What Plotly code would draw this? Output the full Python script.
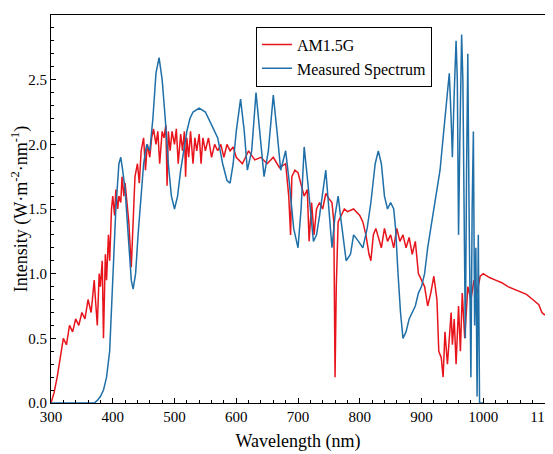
import plotly.graph_objects as go

# AM1.5G reference spectrum
am_x = [300, 305, 310, 315, 320, 325, 330, 335, 340, 345, 350, 355, 360, 365, 370, 372, 375, 378, 380, 383,
        385, 388, 390, 393, 395, 398, 400, 403, 405, 408, 410, 413, 415, 418, 420, 423, 426, 430, 433, 436,
        440, 443, 446, 450, 453, 456, 460, 463, 466, 470, 473, 476, 480, 483, 486, 488, 490, 493, 496, 500,
        503, 506, 510, 513, 516, 518, 520, 523, 526, 530, 533, 536, 540, 543, 546, 550, 555, 560, 565, 570,
        575, 580, 585, 590, 595, 600, 610, 620, 630, 640, 650, 660, 670, 680, 685, 688, 690, 695, 700, 705,
        710, 715, 718, 722, 726, 730, 735, 740, 745, 750, 755, 758, 760, 762, 765, 770, 775, 780, 790, 800,
        805, 810, 815, 818, 822, 826, 830, 835, 840, 845, 850, 855, 860, 865, 870, 875, 880, 885, 890, 895,
        900, 905, 910, 915, 920, 925, 928, 932, 935, 938, 942, 945, 948, 950, 953, 956, 960, 963, 966, 970,
        975, 980, 985, 990, 995, 1000, 1010, 1020, 1030, 1040, 1050, 1060, 1070, 1080, 1090, 1095, 1100]
am_y = [0.0, 0.08, 0.2, 0.35, 0.5, 0.45, 0.6, 0.55, 0.65, 0.6, 0.7, 0.65, 0.8, 0.7, 0.95, 0.8, 0.6, 1.0, 0.9, 1.1,
        0.5, 1.15, 0.95, 1.3, 1.1, 1.5, 1.6, 1.45, 1.65, 1.5, 1.6, 1.55, 1.75, 1.6, 1.7, 1.55, 1.4, 1.05, 1.4, 1.75,
        1.85, 1.7, 1.95, 2.05, 1.8, 2.0, 1.9, 2.05, 2.12, 2.0, 2.1, 1.85, 2.1, 2.05, 2.15, 1.68, 2.1, 1.95, 2.1, 2.0,
        2.12, 1.85, 2.08, 1.95, 2.1, 1.75, 2.05, 1.9, 2.1, 1.85, 2.05, 1.95, 2.08, 1.85, 2.05, 1.95, 2.05, 1.9, 2.0, 1.95,
        2.0, 1.9, 2.0, 1.95, 1.98, 1.9, 1.85, 1.95, 1.88, 1.9, 1.85, 1.9, 1.82, 1.85, 1.6, 1.3, 1.75, 1.8, 1.78, 1.7,
        1.6, 1.65, 1.25, 1.55, 1.3, 1.5, 1.55, 1.5, 1.62, 1.58, 1.55, 1.4, 0.2, 0.9, 1.4, 1.45, 1.5, 1.48, 1.5, 1.45,
        1.4, 1.3, 1.15, 1.1, 1.3, 1.35, 1.28, 1.2, 1.35, 1.25, 1.3, 1.2, 1.35, 1.25, 1.3, 1.2, 1.28, 1.15, 1.25, 1.0,
        0.95, 0.9, 0.75, 0.85, 0.98, 0.8, 0.4, 0.35, 0.2, 0.55, 0.3, 0.5, 0.7, 0.45, 0.65, 0.3, 0.75, 0.4, 0.85, 0.5,
        0.9, 0.8, 0.95, 0.85, 0.98, 1.0, 0.97, 0.95, 0.93, 0.9, 0.88, 0.86, 0.84, 0.8, 0.76, 0.7, 0.68]

# measured spectrum
ms_x = [300, 370, 375, 380, 385, 390, 395, 400, 405, 410, 413, 416, 420, 425, 430, 433, 437, 441, 445, 450,
        455, 460, 465, 470, 475, 480, 485, 490, 495, 500, 505, 510, 515, 520, 525, 530, 540, 550, 560, 570,
        578, 585, 590, 595, 600, 607, 613, 618, 625, 632, 638, 645, 652, 660, 666, 672, 680, 686, 693, 700,
        705, 710, 716, 725, 730, 735, 745, 750, 755, 760, 765, 770, 778, 785, 790, 798, 805, 812, 818, 825,
        830, 835, 840, 845, 850, 855, 858, 862, 866, 870, 875, 880, 885, 890, 895, 900, 905, 910, 915, 920,
        925, 930, 935, 940, 945, 948, 950, 953, 956, 958, 960, 962, 965, 967, 969, 971, 973, 975, 977, 980,
        982, 984, 986, 988, 990, 992, 994, 996, 1000]
ms_y = [0.0, 0.0, 0.02, 0.05, 0.1, 0.2, 0.4, 0.9, 1.5, 1.85, 1.9, 1.8, 1.65, 1.3, 0.95, 0.88, 1.0, 1.3, 1.55, 1.85,
        2.0, 1.95, 2.2, 2.55, 2.67, 2.5, 2.2, 1.85, 1.6, 1.5, 1.6, 1.8, 1.95, 2.1, 2.2, 2.25, 2.28, 2.25, 2.15, 2.05,
        1.85, 1.72, 1.7, 1.85, 2.1, 2.35, 2.1, 1.8, 1.95, 2.4, 2.1, 1.75, 1.95, 2.38, 2.1, 1.8, 1.95, 1.7, 1.35, 1.2,
        1.5, 1.98, 1.7, 1.25, 1.3, 1.45, 1.8, 1.5, 1.2, 1.45, 1.6, 1.4, 1.1, 1.15, 1.3, 1.25, 1.2, 1.35, 1.55, 1.85,
        1.95, 1.85, 1.6, 1.5, 1.55, 1.5, 1.35, 1.0, 0.7, 0.5, 0.55, 0.65, 0.7, 0.75, 0.85, 0.9, 1.0, 1.2, 1.35, 1.5,
        1.65, 1.8, 2.05, 2.3, 2.55, 2.2, 1.9, 2.4, 2.8, 2.5, 1.3, 2.0, 2.85, 2.5, 1.2, 0.5, 1.8, 2.7, 1.5, 0.2,
        1.5, 2.1, 0.6, 1.2, 0.05, 1.3, 0.0, 0.0, 0.0]

fig = go.Figure()
fig.add_trace(go.Scatter(x=am_x, y=am_y, mode='lines', name='AM1.5G',
                         line={'color': '#e8141c', 'width': 1.5}))
fig.add_trace(go.Scatter(x=ms_x, y=ms_y, mode='lines', name='Measured Spectrum',
                         line={'color': '#1f6fa8', 'width': 1.5}))

axis_style = dict(showline=True, linecolor='black', linewidth=1, mirror=True,
                  ticks='inside', ticklen=5, tickcolor='black', showgrid=False, zeroline=False,
                  automargin=False,
                  tickfont={'size': 15, 'color': 'black'},
                  minor={'ticks': 'inside', 'ticklen': 3, 'tickcolor': 'black'})

fig.update_layout(
    width=553, height=454,
    paper_bgcolor='white', plot_bgcolor='white',
    font={'family': 'Liberation Serif', 'color': 'black'},
    margin={'l': 43, 'r': 16, 't': 7, 'b': 59},
    legend={'x': 0.415, 'y': 0.97, 'xanchor': 'left', 'yanchor': 'top',
            'bordercolor': 'black', 'borderwidth': 1, 'font': {'size': 16},
            'tracegroupgap': 0},
)
fig.update_xaxes(range=[300, 1100], dtick=100,
                 title={'text': 'Wavelength (nm)', 'font': {'size': 18}, 'standoff': 10}, **axis_style)
fig.update_yaxes(range=[0, 3.0], dtick=0.5, tickformat='.1f',
                 title={'text': 'Intensity (W·m<sup>-2</sup>·nm<sup>-1</sup>)', 'font': {'size': 18}, 'standoff': 2},
                 **axis_style)

fig.write_html('out.html')
